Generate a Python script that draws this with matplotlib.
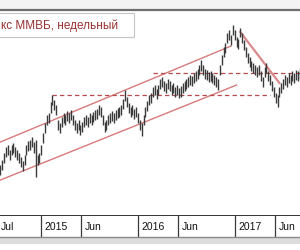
import numpy as np
import pandas as pd
import matplotlib
matplotlib.use("Agg")
import matplotlib.pyplot as plt
import matplotlib.dates as mdates
from matplotlib.patches import Rectangle

# --- DATA: weekly bars, MICEX index ---
START = "2014-08-01"
highs = [1460, 1490, 1530, 1568, 1580, 1548, 1580, 1592, 1566, 1548, 1530, 1506, 1482, 1520, 1580, 1604,
         1610, 1628, 1600, 1610, 1520, 1532, 1580, 1652, 1712, 1760, 1772, 1840, 1880, 1850, 1820, 1730,
         1712, 1748, 1772, 1758, 1784, 1772, 1790, 1760, 1730, 1712, 1730, 1700, 1718, 1748, 1760, 1748,
         1772, 1760, 1778, 1790, 1796, 1820, 1808, 1760, 1718, 1730, 1760, 1772, 1784, 1772, 1790, 1802,
         1808, 1820, 1856, 1910, 1868, 1832, 1808, 1820, 1796, 1808, 1772, 1730, 1712, 1760, 1808, 1844,
         1880, 1892, 1928, 1940, 1916, 1940, 1976, 1988, 1964, 1952, 1976, 1964, 1940, 1952, 1928, 1940,
         1922, 1934, 1952, 1964, 1976, 1988, 2000, 1994, 2012, 2024, 2036, 2060, 2090, 2060, 2036, 2030,
         2018, 2024, 2012, 2000, 1988, 1976, 2060, 2120, 2168, 2192, 2252, 2270, 2240, 2300, 2270, 2228,
         2216, 2282, 2252, 2210, 2168, 2132, 2108, 2084, 2072, 2060, 2048, 2060, 2024, 1988, 2048, 2072,
         2024, 2000, 1964, 1928, 1892, 1880, 1928, 1952, 1976, 2000, 1988, 2012, 2000, 2024, 2012, 2030,
         2024, 2036]
lows = [1400, 1430, 1472, 1508, 1520, 1490, 1520, 1532, 1508, 1490, 1472, 1448, 1424, 1460, 1520, 1544,
        1550, 1568, 1532, 1388, 1460, 1472, 1520, 1592, 1652, 1700, 1712, 1772, 1820, 1790, 1760, 1670,
        1652, 1688, 1712, 1700, 1724, 1712, 1730, 1700, 1670, 1652, 1670, 1640, 1658, 1688, 1700, 1688,
        1712, 1700, 1718, 1730, 1736, 1760, 1748, 1700, 1658, 1670, 1700, 1712, 1724, 1712, 1730, 1742,
        1748, 1760, 1796, 1844, 1808, 1772, 1748, 1760, 1736, 1748, 1712, 1670, 1634, 1700, 1748, 1784,
        1820, 1832, 1868, 1880, 1856, 1880, 1916, 1928, 1904, 1892, 1916, 1904, 1880, 1892, 1868, 1880,
        1862, 1868, 1892, 1904, 1916, 1928, 1940, 1934, 1952, 1964, 1976, 2000, 2024, 2000, 1976, 1970,
        1958, 1964, 1952, 1940, 1928, 1910, 2000, 2060, 2108, 2132, 2192, 2210, 2180, 2240, 2210, 2168,
        2156, 2228, 2192, 2150, 2108, 2072, 2048, 2024, 2012, 2000, 1988, 2000, 1964, 1928, 1988, 2012,
        1964, 1940, 1904, 1868, 1832, 1808, 1868, 1892, 1916, 1940, 1928, 1952, 1940, 1964, 1952, 1970,
        1964, 1976]

# trend lines: (date, price) pairs
channel_top = (["2014-08-01", "2016-12-16"], [1598, 2174])
channel_bottom = (["2014-08-01", "2017-01-06"], [1370, 1940])
down_line = (["2017-01-20", "2017-06-16"], [2258, 1952])
level_low = (["2015-02-13", "2017-05-12"], [1880, 1880])
level_high = (["2016-02-26", "2017-09-01"], [2012, 2012])

tick_dates = ["2014-07-01", "2015-01-01", "2015-06-01", "2016-01-01", "2016-06-01", "2017-01-01", "2017-06-01"]
tick_labels = ["Jul", "2015", "Jun", "2016", "Jun", "2017", "Jun"]

TITLE = "кс ММВБ, недельный"

# --- Setup ---
plt.rcParams["font.family"] = ["Liberation Sans", "DejaVu Sans"]
W, H = 300, 250
PX_WEEK = 1.86
fig = plt.figure(figsize=(3, 2.5), dpi=100)
fig.patch.set_facecolor("white")

dates = pd.date_range(START, periods=len(highs), freq="W-FRI")
x = mdates.date2num(dates)
x0 = x[0] - 1.5
x1 = x0 + W / PX_WEEK * 7
day_px = PX_WEEK / 7  # pixels per day

# light strip on top
fig.add_artist(Rectangle((0, 1 - 10 / H), 1, 10 / H, transform=fig.transFigure,
                         facecolor="#f3f3f3", edgecolor="none", zorder=0))

ax = fig.add_axes([0, 1 - 216 / H, 1, 206 / H])
ax.vlines(x, lows, highs, color="#3a3a3a", lw=1.0, zorder=3)

red_light = "#d67a7c"
ax.plot(mdates.datestr2num(channel_top[0]), channel_top[1], color=red_light, lw=1.0, zorder=2)
ax.plot(mdates.datestr2num(channel_bottom[0]), channel_bottom[1], color=red_light, lw=1.0, zorder=2)
ax.plot(mdates.datestr2num(down_line[0]), down_line[1], color="#d98a8c", lw=1.6, zorder=2)
for lvl in (level_low, level_high):
    ax.plot(mdates.datestr2num(lvl[0]), lvl[1], color="#b84a4c", lw=0.9,
            dashes=(3.5, 2.5), zorder=2)

ax.set_xlim(x0, x1)
ax.set_ylim(2450 - 6 * 216, 2450 - 6 * 10)
ax.set_xticks([])
ax.set_yticks([])
for side in ("left", "right"):
    ax.spines[side].set_visible(False)
ax.spines["top"].set_color("#6e6e6e")
ax.spines["top"].set_linewidth(1.6)
ax.spines["bottom"].set_color("#111111")
ax.spines["bottom"].set_linewidth(1.2)

# title box (figure pixels: x 0..134, y 13..37)
fig.add_artist(Rectangle((-2 / W, 1 - 37 / H), 136 / W, 24 / H, transform=fig.transFigure,
                         facecolor="white", edgecolor="#c4c4c4", lw=0.8, zorder=5))
fig.text(1 / W, 1 - 25.5 / H, TITLE, fontsize=8.5, color="#983232",
         ha="left", va="center", zorder=6)

# --- date strip ---
axd = fig.add_axes([0, 1 - 237 / H, 1, 21 / H], sharex=ax)
axd.set_xlim(x0, x1)
axd.set_ylim(0, 1)
for d, lab in zip(tick_dates, tick_labels):
    xd = mdates.datestr2num(d)
    axd.axvline(xd, color="#3a3a3a", lw=0.9)
    xt = max(xd + 3.5 / day_px, x0 + 0.5 / day_px)
    axd.text(xt, 0.47, lab, fontsize=7.5, color="#111111", ha="left", va="center")
axd.set_xticks([])
axd.set_yticks([])
for side in ("left", "right", "top"):
    axd.spines[side].set_visible(False)
axd.spines["bottom"].set_color("#8a8a8a")
axd.spines["bottom"].set_linewidth(1.0)

# shadow under strip
fig.add_artist(Rectangle((0, 1 - 244 / H), 1, 7 / H, transform=fig.transFigure,
                         facecolor="#dcdcdc", edgecolor="none", zorder=0))

fig.savefig("out.png", dpi=100)
